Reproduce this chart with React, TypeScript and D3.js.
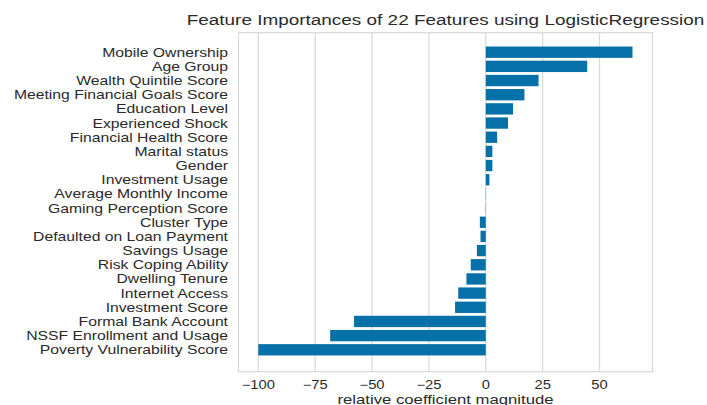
import React from "react";
import * as d3 from "d3";

// Features listed from the bottom bar to the top bar
const features: string[] = [
  "Poverty Vulnerability Score",
  "NSSF Enrollment and Usage",
  "Formal Bank Account",
  "Investment Score",
  "Internet Access",
  "Dwelling Tenure",
  "Risk Coping Ability",
  "Savings Usage",
  "Defaulted on Loan Payment",
  "Cluster Type",
  "Gaming Perception Score",
  "Average Monthly Income",
  "Investment Usage",
  "Gender",
  "Marital status",
  "Financial Health Score",
  "Experienced Shock",
  "Education Level",
  "Meeting Financial Goals Score",
  "Wealth Quintile Score",
  "Age Group",
  "Mobile Ownership",
];

// Relative coefficient magnitudes, same order as features
const importances: number[] = [
  -100, -68.4, -57.9, -13.5, -12.1, -8.5, -6.6, -3.9, -2.3, -2.6, -0.1, 0.1,
  1.6, 2.9, 2.9, 5.0, 9.8, 12.0, 17.0, 23.2, 44.6, 64.5,
];

const xTicks: number[] = [-100, -75, -50, -25, 0, 25, 50];

const title = "Feature Importances of 22 Features using LogisticRegression";
const xLabel = "relative coefficient magnitude";

const W = 707;
const H = 405;
const plot = { left: 238.5, right: 652.5, top: 32.7, bottom: 371.7 };
const BAR = "#0670a8";
const GRID = "#dadada";
const TEXT = "#2a2a2a";
const SX = 1.23; // horizontal text stretch
const FONT = "'Liberation Sans', Arial, sans-serif";

export default function App() {
  const x = d3.scaleLinear().domain([-108.7, 73.3]).range([plot.left, plot.right]);
  const y = d3
    .scaleLinear()
    .domain([-1.546, features.length - 1 + 1.376])
    .range([plot.bottom, plot.top]);
  const band = Math.abs(y(1) - y(0));
  const barH = band * 0.8;

  return (
    <svg
      width={W}
      height={H}
      style={{ position: "absolute", left: 0, top: 0, background: "#fff" }}
      fontFamily={FONT}
    >
      <rect x={0} y={0} width={W} height={H} fill="#fff" />
      {/* grid */}
      {xTicks.map((t) => (
        <line
          key={"g" + t}
          x1={x(t)}
          x2={x(t)}
          y1={plot.top}
          y2={plot.bottom}
          stroke={GRID}
          strokeWidth={1.3}
        />
      ))}
      {/* bars */}
      {importances.map((v, i) => (
        <rect
          key={"b" + i}
          x={Math.min(x(0), x(v))}
          y={y(i) - barH / 2}
          width={Math.abs(x(v) - x(0))}
          height={barH}
          fill={BAR}
        />
      ))}
      {/* frame */}
      <rect
        x={plot.left}
        y={plot.top}
        width={plot.right - plot.left}
        height={plot.bottom - plot.top}
        fill="none"
        stroke={GRID}
        strokeWidth={1.3}
      />
      {/* y labels */}
      {features.map((f, i) => (
        <text
          key={"y" + i}
          transform={`translate(228,${y(i)}) scale(${SX},1)`}
          textAnchor="end"
          dominantBaseline="central"
          fontSize={12.8}
          fill={TEXT}
        >
          {f}
        </text>
      ))}
      {/* x tick labels */}
      {xTicks.map((t) => (
        <text
          key={"t" + t}
          transform={`translate(${x(t)},388.5) scale(${SX},1)`}
          textAnchor="middle"
          fontSize={12}
          fill={TEXT}
        >
          {t < 0 ? "\u2212" + Math.abs(t) : String(t)}
        </text>
      ))}
      <text
        transform={`translate(${(plot.left + plot.right) / 2},403.5) scale(${SX},1)`}
        textAnchor="middle"
        fontSize={13.6}
        fill={TEXT}
      >
        {xLabel}
      </text>
      <text
        transform={`translate(${(plot.left + plot.right) / 2},24.5) scale(${SX},1)`}
        textAnchor="middle"
        fontSize={15.4}
        fill={TEXT}
      >
        {title}
      </text>
    </svg>
  );
}
